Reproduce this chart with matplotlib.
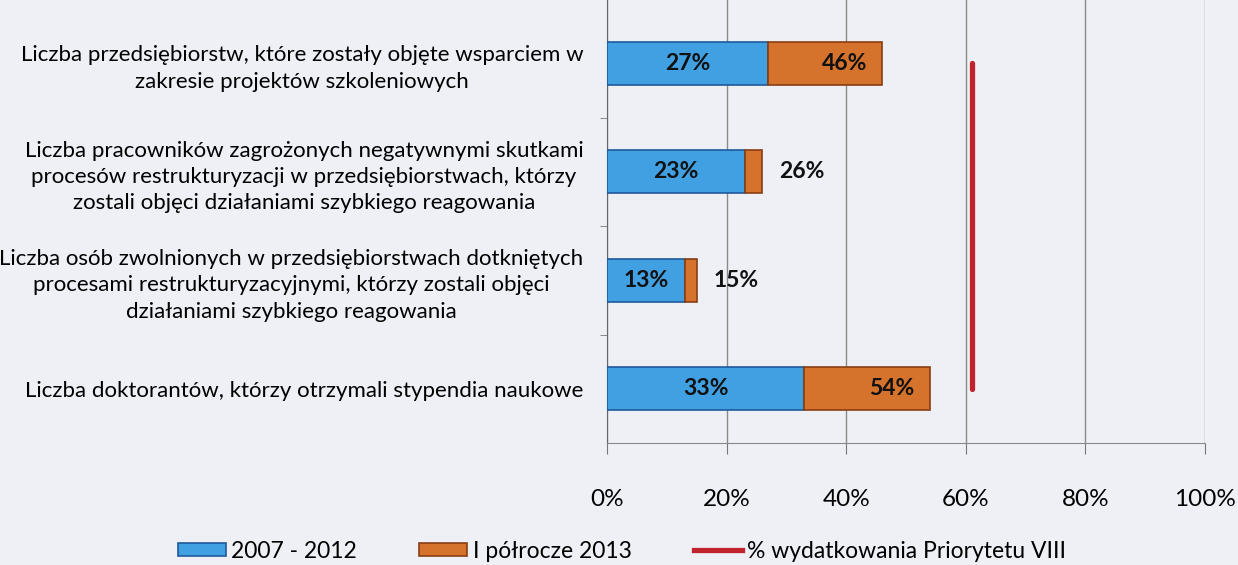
import matplotlib
matplotlib.use("Agg")
import matplotlib.pyplot as plt
from matplotlib.lines import Line2D
from matplotlib.patches import Patch
import numpy as np

plt.rcParams['font.family'] = ['Lato', 'DejaVu Sans']

categories = [
    "Liczba przedsiębiorstw, które zostały objęte wsparciem w\nzakresie projektów szkoleniowych",
    "Liczba pracowników zagrożonych negatywnymi skutkami\nprocesów restrukturyzacji w przedsiębiorstwach, którzy\nzostali objęci działaniami szybkiego reagowania",
    "Liczba osób zwolnionych w przedsiębiorstwach dotkniętych\nprocesami restrukturyzacyjnymi, którzy zostali objęci\ndziałaniami szybkiego reagowania",
    "Liczba doktorantów, którzy otrzymali stypendia naukowe",
]
val_2007_2012 = [27, 23, 13, 33]
val_total_2013 = [46, 26, 15, 54]
spending_pct = [61, 61, 61, 61]
label_inside_total = [True, False, False, True]
xticks = [0, 20, 40, 60, 80, 100]
series_names = ["2007 - 2012", "I półrocze 2013", "% wydatkowania Priorytetu VIII"]

BG = '#eef0f6'
BLUE = '#41a0e2'
BLUE_EDGE = '#1d5a9a'
ORANGE = '#d5732c'
ORANGE_EDGE = '#8a3e12'
RED = '#c0232c'

fig = plt.figure(figsize=(12.38, 5.65), dpi=100, facecolor=BG)
ax = fig.add_axes([607/1238, 1-443/565, (1205-607)/1238, 443/565])
ax.set_facecolor(BG)

y = np.arange(len(categories))
blue = np.array(val_2007_2012)
total = np.array(val_total_2013)
inc = total - blue

ax.barh(y, blue, height=0.4, color=BLUE, edgecolor=BLUE_EDGE, linewidth=1.2, zorder=3)
ax.barh(y, inc, left=blue, height=0.4, color=ORANGE, edgecolor=ORANGE_EDGE, linewidth=1.2, zorder=3)
ax.plot(spending_pct, y, color=RED, linewidth=3.8, solid_capstyle='round', zorder=4)

for i in range(len(categories)):
    ax.text(blue[i] / 2, y[i], f"{val_2007_2012[i]}%", ha='center', va='center',
            fontsize=16.5, fontweight='bold', color='#111111', zorder=5)
    if label_inside_total[i]:
        ax.annotate(f"{val_total_2013[i]}%", xy=(total[i], y[i]), xytext=(-11, 0),
                    textcoords='offset points', ha='right', va='center',
                    fontsize=16.5, fontweight='bold', color='#111111', zorder=5)
    else:
        ax.annotate(f"{val_total_2013[i]}%", xy=(total[i], y[i]), xytext=(12, 0),
                    textcoords='offset points', ha='left', va='center',
                    fontsize=16.5, fontweight='bold', color='#111111', zorder=5)

ax.set_xlim(0, 100)
ax.set_ylim(len(categories) - 0.5, -0.5 - 9/108.5)
ax.set_xticks(xticks)
ax.set_xticklabels([f"{t}%" for t in xticks], fontsize=17.5)
ax.set_yticks(y)
ax.set_yticklabels(categories, fontsize=16, linespacing=1.4, multialignment='center')
ax.set_yticks(np.arange(1, len(categories)) - 0.5, minor=True)
ax.tick_params(axis='y', which='major', length=0, pad=17)
ax.tick_params(axis='y', which='minor', length=5, color='#777777', direction='out')
ax.tick_params(axis='x', which='major', length=8, color='#777777', pad=25)
ax.grid(axis='x', color='#8a8a8a', linewidth=1.0, zorder=0)
ax.set_axisbelow(True)
for s in ['top', 'right']:
    ax.spines[s].set_visible(False)
ax.spines['left'].set_color('#666666')
ax.spines['bottom'].set_color('#888888')

handles = [
    Patch(facecolor=BLUE, edgecolor=BLUE_EDGE, linewidth=1.2),
    Patch(facecolor=ORANGE, edgecolor=ORANGE_EDGE, linewidth=1.2),
    Line2D([0], [0], color=RED, linewidth=3.8),
]
leg = fig.legend(handles, series_names, loc='center', bbox_to_anchor=(622/1238, 1-551/565),
                 ncol=3, frameon=False, fontsize=16.5, handlelength=2.1, handleheight=0.5,
                 handletextpad=0.25, columnspacing=2.7)

fig.savefig("out.png", dpi=100, facecolor=BG)
